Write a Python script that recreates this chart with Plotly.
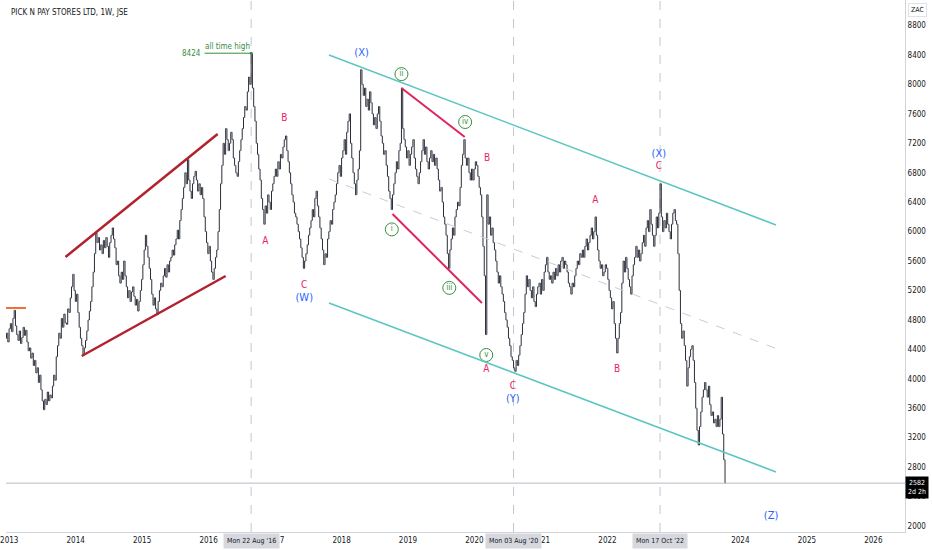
import plotly.graph_objects as go
import pandas as pd

# ---------------- data (weekly closes) ----------------
START = "2012-12-10"
closes = [
    4550, 4620, 4500, 4680, 4750, 4640, 4820, 4930, 4720, 4600,
    4520, 4650, 4480, 4560, 4700, 4590, 4660, 4500, 4380, 4420,
    4280, 4350, 4180, 4250, 4080, 4150, 3950, 4050, 3850, 3700,
    3580, 3720, 3650, 3820, 3700, 3780, 3740, 3900, 4050, 3980,
    4300, 4450, 4620, 4550, 4820, 4700, 4880, 4760, 4740, 4950,
    4900, 5100, 5250, 5420, 5200, 5050, 5150, 4900, 4700, 4550,
    4450, 4330, 4420, 4520, 4650, 4800, 4920, 5050, 5250, 5450,
    5700, 5980, 5850, 5920, 5750, 5820, 5700, 5880, 5780, 5920,
    5800, 5650, 5850, 5950, 6050, 5900, 5780, 5550, 5600, 5400,
    5300, 5450, 5350, 5600, 5400, 5250, 5100, 5200, 5050, 5180,
    5250, 5120, 5000, 5080, 4920, 5050, 5200, 5350, 5550, 5750,
    5950, 5800, 5650, 5500, 5350, 5150, 5000, 5100, 4950, 4870,
    5050, 5200, 5300, 5250, 5400, 5500, 5380, 5550, 5450, 5600,
    5650, 5750, 5680, 5820, 5900, 6020, 5900, 6150, 6300, 6450,
    6600, 6800, 6650, 6980, 6700, 6550, 6450, 6650, 6750, 6820,
    6700, 6550, 6650, 6500, 6600, 6450, 6200, 6000, 5850, 5700,
    5800, 5600, 5450, 5350, 5500, 5650, 5750, 6000, 6300, 6650,
    6900, 7200, 7050, 7400, 7250, 7100, 7200, 7350, 7250, 7000,
    6900, 6800, 6750, 6950, 7100, 7250, 7400, 7550, 7700, 7650,
    7900, 8100, 8000, 8424, 7950, 7700, 7500, 7200, 7050, 6850,
    6700, 6450, 6300, 6100, 6350, 6250, 6500, 6400, 6300, 6550,
    6650, 6750, 6850, 6750, 6950, 6850, 7050, 7000, 7150, 7250,
    7300, 7100, 6950, 6800, 6650, 6500, 6400, 6250, 6200, 6100,
    6000, 5900, 5780, 5650, 5500, 5600, 5700, 5820, 5950, 6050,
    6150, 6300, 6200, 6450, 6550, 6350, 6200, 6050, 5900, 5750,
    5550, 5700, 5650, 5900, 6000, 6150, 6100, 6300, 6400, 6500,
    6650, 6800, 6900, 6750, 7000, 7100, 7250, 7050, 7350, 7500,
    7600, 7200, 7000, 6800, 6650, 6500, 6700, 6850, 7100, 8200,
    8000, 7850, 7950, 7700, 7800, 7650, 7900, 7750, 7600, 7450,
    7550, 7400, 7600, 7700, 7500, 7300, 7200, 7050, 7100, 6900,
    6750, 6550, 6450, 6300, 6500, 6650, 6800, 6950, 6850, 7100,
    7200, 7950, 7400, 7250, 7150, 7000, 7100, 6900, 7050, 7150,
    7250, 7000, 6850, 6750, 6650, 6800, 6950, 7100, 7250, 7050,
    7150, 6950, 6850, 7000, 7100, 6950, 7050, 6900, 7000, 6850,
    6700, 6550, 6600, 6400, 6200, 6100, 5950, 5700, 5500, 5750,
    5900, 6050, 5950, 6200, 6300, 6400, 6350, 6600, 6900, 7050,
    7250, 7000, 6900, 7000, 6800, 6700, 6850, 6700, 6850, 6950,
    6900, 6750, 6600, 6500, 6200, 5800, 5400, 4600, 6500, 6100,
    6200, 5950, 6050, 5850, 5750, 5600, 5450, 5300, 5400, 5250,
    5150, 5050, 4900, 4800, 4700, 4550, 4450, 4300, 4250, 4150,
    4100, 4250, 4180, 4320, 4450, 4600, 4750, 4900, 5150, 5400,
    5250, 5350, 5200, 5100, 5250, 5050, 4980, 5150, 5250, 5300,
    5150, 5350, 5200, 5450, 5550, 5650, 5450, 5350, 5400, 5300,
    5450, 5350, 5500, 5400, 5550, 5450, 5600, 5650, 5500, 5600,
    5550, 5450, 5300, 5250, 5150, 5300, 5250, 5400, 5500, 5600,
    5550, 5700, 5650, 5750, 5650, 5800, 5900, 5750, 5850, 5950,
    6050, 5900, 6000, 6200, 5950, 5750, 5600, 5500, 5550, 5400,
    5450, 5550, 5500, 5350, 5200, 5100, 4950, 5050, 4750, 4550,
    4350, 4550, 4750, 4900, 5300, 5600, 5450, 5650, 5500, 5350,
    5250, 5150, 5400, 5550, 5650, 5800, 5650, 5750, 5600, 5700,
    5850, 5950, 5800, 6050, 6150, 6000, 6300, 6100, 5950, 5800,
    5950, 6200, 6050, 6250, 6650, 6200, 6000, 6150, 6050, 6250,
    6100, 6000, 5900, 6100, 6250, 6300, 6150, 6100, 5700, 5200,
    4750, 4550, 4650, 4450, 4250, 3900, 4150, 4300, 4400, 4450,
    4250, 3950, 3600, 3300, 3100, 3350, 3550, 3750, 3850, 3950,
    3850, 3750, 3900, 3650, 3500, 3550, 3400, 3450, 3350, 3500,
    3350, 3450, 3750, 3250, 2900, 2582,
]
LAST_PRICE = 2582
ATH_PRICE = 8424
ATH_DATE = "2016-08-22"

year_ticks = ["2013", "2014", "2015", "2016", "2017", "2018", "2019",
              "2020", "2021", "2022", "2023", "2024", "2025", "2026"]
marker_dates = ["2016-08-22", "2020-08-03", "2022-10-17"]
marker_texts = ["Mon 22 Aug '16", "Mon 03 Aug '20", "Mon 17 Oct '22"]

# wave labels (date, price)
pink_labels = ["A", "B", "C", "B", "A", "C", "A", "B", "C"]
pink_dates = ["2016-11-08", "2017-02-21", "2017-06-10", "2020-03-10", "2020-03-06",
              "2020-07-30", "2021-10-26", "2022-02-23", "2022-10-10"]
pink_prices = [5859, 7543, 5274, 7000, 4120, 3900, 6429, 4120, 6878]

blue_labels = ["(W)", "(X)", "(Y)", "(X)", "(Z)"]
blue_dates = ["2017-06-10", "2018-04-21", "2020-07-30", "2022-10-10", "2024-06-18"]
blue_prices = [5100, 8427, 3720, 7045, 2136]

roman_labels = ["i", "ii", "iii", "iv", "v"]
roman_dates = ["2018-10-04", "2018-11-26", "2019-08-16", "2019-11-11", "2020-03-06"]
roman_prices = [6030, 8140, 5235, 7489, 4323]

# drawing anchors (date, price)
red_channel = [(("2013-11-06", 5655), ("2016-02-20", 7326)),
               (("2014-02-03", 4310), ("2016-04-04", 5397))]
teal_channel = [(("2017-10-24", 8400), ("2024-07-15", 6090)),
                (("2017-10-24", 5030), ("2024-07-15", 2734))]
teal_mid = (("2017-10-24", 6715), ("2024-07-15", 4412))
crimson_lines = [(("2018-11-26", 7951), ("2019-11-09", 7285)),
                 (("2018-10-08", 6239), ("2020-02-11", 5030))]
orange_level = (("2012-11-01", 4962), ("2013-04-03", 4962))
ath_line_start = "2015-12-10"

# ---------------- build ----------------
dates = pd.date_range(START, periods=len(closes), freq="W-MON")
opens = [closes[0]] + closes[:-1]
highs = [max(o, c) for o, c in zip(opens, closes)]
lows = [min(o, c) for o, c in zip(opens, closes)]

BAR = "#2a2e39"
PINK = "#e91e63"
BLUE = "#2962ff"
GREEN = "#388e3c"
FONT = "Liberation Sans Narrow, DejaVu Sans Condensed, Roboto, Liberation Sans, sans-serif"

fig = go.Figure()
fig.add_trace(go.Ohlc(
    x=dates, open=opens, high=highs, low=lows, close=closes,
    increasing=dict(line=dict(color=BAR, width=1)),
    decreasing=dict(line=dict(color=BAR, width=1)),
    tickwidth=0.4, showlegend=False, hoverinfo="skip"))

shapes = []
for (a, b) in red_channel:
    shapes.append(dict(type="line", xref="x", yref="y", x0=a[0], y0=a[1], x1=b[0], y1=b[1],
                       line=dict(color="#b2222e", width=2.5)))
for (a, b) in teal_channel:
    shapes.append(dict(type="line", xref="x", yref="y", x0=a[0], y0=a[1], x1=b[0], y1=b[1],
                       line=dict(color="#5cc6c1", width=1.5)))
a, b = teal_mid
shapes.append(dict(type="line", xref="x", yref="y", x0=a[0], y0=a[1], x1=b[0], y1=b[1],
                   line=dict(color="#c9ccd3", width=1, dash="dash")))
for (a, b) in crimson_lines:
    shapes.append(dict(type="line", xref="x", yref="y", x0=a[0], y0=a[1], x1=b[0], y1=b[1],
                       line=dict(color="#e0245e", width=2)))
a, b = orange_level
shapes.append(dict(type="line", xref="x", yref="y", x0=a[0], y0=a[1], x1=b[0], y1=b[1],
                   line=dict(color="#f0703c", width=2)))
for d in marker_dates:
    shapes.append(dict(type="line", xref="x", yref="paper", x0=d, x1=d, y0=0, y1=1,
                       line=dict(color="#c3c6ce", width=1, dash="dash"), layer="below"))
shapes.append(dict(type="line", xref="paper", yref="y", x0=0, x1=1, y0=LAST_PRICE, y1=LAST_PRICE,
                   line=dict(color="#b8bbc3", width=1)))
shapes.append(dict(type="line", xref="x", yref="y", x0=ath_line_start, x1=ATH_DATE,
                   y0=ATH_PRICE, y1=ATH_PRICE, line=dict(color=GREEN, width=1)))
fig.update_layout(shapes=shapes)

fig.add_trace(go.Scatter(x=[ATH_DATE], y=[ATH_PRICE], mode="markers",
                         marker=dict(color=GREEN, size=3), showlegend=False, hoverinfo="skip"))
fig.add_trace(go.Scatter(x=pink_dates, y=pink_prices, mode="text", text=pink_labels,
                         textfont=dict(color=PINK, size=10, family=FONT),
                         showlegend=False, hoverinfo="skip"))
fig.add_trace(go.Scatter(x=blue_dates, y=blue_prices, mode="text", text=blue_labels,
                         textfont=dict(color=BLUE, size=11, family=FONT),
                         showlegend=False, hoverinfo="skip"))
fig.add_trace(go.Scatter(x=roman_dates, y=roman_prices, mode="markers+text", text=roman_labels,
                         textposition="middle center",
                         marker=dict(symbol="circle-open", size=13, color=GREEN, line=dict(width=1)),
                         textfont=dict(color=GREEN, size=8, family=FONT),
                         showlegend=False, hoverinfo="skip"))

ann = []
ann.append(dict(x=0, y=1, xref="paper", yref="paper", xanchor="left", yanchor="top",
                xshift=3, yshift=-6, text="PICK N PAY STORES LTD, 1W, JSE", showarrow=False,
                font=dict(size=8, color="#131722", family=FONT)))
ann.append(dict(x=1, y=1, xref="paper", yref="paper", xanchor="left", yanchor="top",
                xshift=3, yshift=-3, text="ZAC", showarrow=False, bgcolor="white",
                bordercolor="#e0e3eb", borderwidth=1, borderpad=2,
                font=dict(size=7, color="#131722", family=FONT)))
ann.append(dict(x=1, y=LAST_PRICE, xref="paper", yref="y", xanchor="left", yanchor="middle",
                yshift=-4, text="2582<br>2d 2h", showarrow=False, bgcolor="#000000",
                borderpad=2, align="center", font=dict(size=7, color="white", family=FONT)))
for d, t in zip(marker_dates, marker_texts):
    ann.append(dict(x=d, y=0, xref="x", yref="paper", yanchor="top", yshift=-1,
                    text=t, showarrow=False, bgcolor="#d6d8de", borderpad=3,
                    font=dict(size=7, color="#131722", family=FONT)))
ann.append(dict(x=ath_line_start, y=ATH_PRICE, xref="x", yref="y", xanchor="right",
                yanchor="middle", xshift=-2, text=str(ATH_PRICE), showarrow=False,
                font=dict(size=8, color=GREEN, family=FONT)))
ann.append(dict(x="2016-04-15", y=ATH_PRICE, xref="x", yref="y", xanchor="center",
                yanchor="bottom", yshift=0, text="all time high", showarrow=False,
                font=dict(size=8, color=GREEN, family=FONT)))
fig.update_layout(annotations=ann)

fig.update_xaxes(type="date", range=["2012-12-14", "2026-06-24"],
                 tickvals=[y + "-01-01" for y in year_ticks], ticktext=year_ticks,
                 showgrid=False, zeroline=False, showline=True, linecolor="#d1d4dc",
                 ticks="", ticklabeloverflow="allow",
                 tickfont=dict(size=8, color="#131722", family=FONT),
                 rangeslider=dict(visible=False))
fig.update_yaxes(side="right", range=[1918, 9147], tick0=2000, dtick=400, tickformat="d",
                 showgrid=False, zeroline=False, showline=True, linecolor="#d1d4dc",
                 ticks="", ticklabeloverflow="allow",
                 tickfont=dict(size=8, color="#131722", family=FONT))
fig.update_layout(width=932, height=550, autosize=False,
                  margin=dict(l=0, r=27, t=0, b=18),
                  paper_bgcolor="white", plot_bgcolor="white",
                  font=dict(family=FONT), showlegend=False, hovermode=False)

fig.write_html("out.html", config={"displayModeBar": False, "staticPlot": True},
               post_script="document.body.style.margin='0';document.body.style.padding='0';"
                           "document.body.style.overflow='hidden';")
